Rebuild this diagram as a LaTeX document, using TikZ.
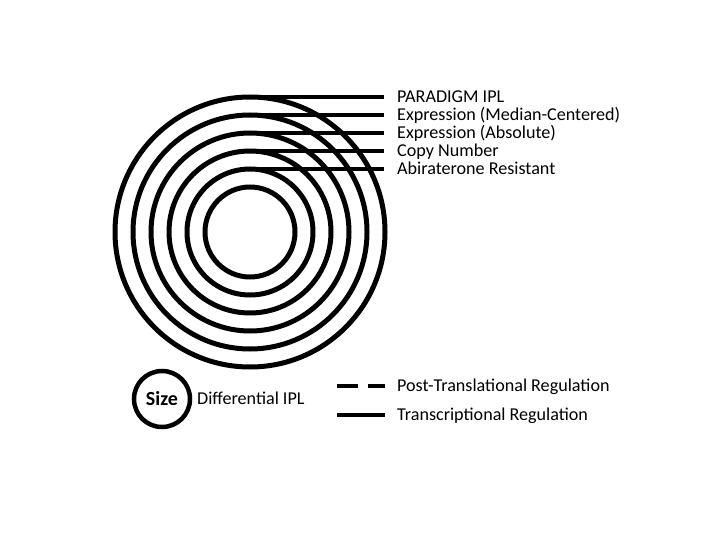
\documentclass[tikz,border=0pt]{standalone}
\usepackage{fontspec}
\setmainfont{Carlito}
\usepackage{tikz}
\usetikzlibrary{calc}

\tikzset{
  ring/.style={draw, circle, line width=5pt, inner sep=0pt, outer sep=0pt},
  lab/.style={anchor=west, inner sep=0pt, text height=11.5pt, text depth=0pt, font=\fontsize{18.1}{21}\selectfont},
  wire/.style={line width=4pt}
}

\begin{document}
\begin{tikzpicture}[x=1pt, y=-1pt]
  \useasboundingbox (0,0) rectangle (720,540);
  \foreach \r/\n in {135/pa,117/em,99/ea,81/cn,63/ar,45/core}
    \node[ring, minimum size=2*\r pt] (\n) at (250,232) {};

  \node[lab] (pIPL) at (397,97) {PARADIGM IPL};
  \node[lab] (eMed) at (397,115) {Expression (Median-Centered)};
  \node[lab] (eAbs) at (397,133) {Expression (Absolute)};
  \node[lab] (cNum) at (397,151) {Copy Number};
  \node[lab] (aRes) at (397,169) {Abiraterone Resistant};

  \draw[wire] (pa.north) -- ([xshift=-13pt]pIPL.west);
  \draw[wire] (em.north) -- ([xshift=-13pt]eMed.west);
  \draw[wire] (ea.north) -- ([xshift=-13pt]eAbs.west);
  \draw[wire] (cn.north) -- ([xshift=-13pt]cNum.west);
  \draw[wire] (ar.north) -- ([xshift=-13pt]aRes.west);

  \node[ring, line width=4.5pt, minimum size=56pt, font=\fontsize{20}{22}\selectfont\bfseries] (size) at (162,399) {Size};
  \node[lab] (dIPL) at (197,399) {Differential IPL};

  \node[lab] (pTr) at (397,386) {Post-Translational Regulation};
  \node[lab] (tRe) at (397,415) {Transcriptional Regulation};
  \draw[wire, dash pattern=on 21pt off 10pt] ([xshift=-60pt]pTr.west) -- ([xshift=-12pt]pTr.west);
  \draw[wire] ([xshift=-60pt]tRe.west) -- ([xshift=-12pt]tRe.west);
\end{tikzpicture}
\end{document}
